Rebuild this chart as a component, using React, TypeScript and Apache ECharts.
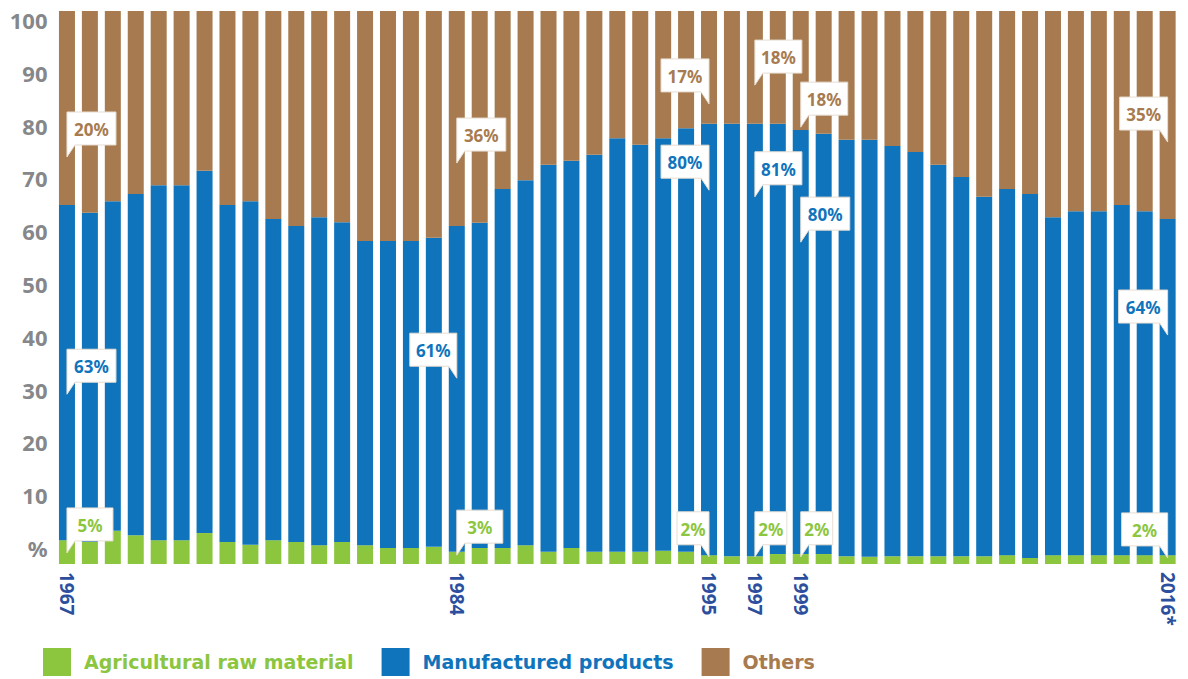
import React, { useEffect, useRef } from "react";
import * as echarts from "echarts";

const years: string[] = [
  "1967","1968","1969","1970","1971","1972","1973","1974","1975","1976",
  "1977","1978","1979","1980","1981","1982","1983","1984","1985","1986",
  "1987","1988","1989","1990","1991","1992","1993","1994","1995","1996",
  "1997","1998","1999","2000","2001","2002","2003","2004","2005","2006",
  "2007","2008","2009","2010","2011","2012","2013","2014","2016*",
];
const shownYears: string[] = ["1967", "1984", "1995", "1997", "1999", "2016*"];

const agricultural: number[] = [
  4.3,4.0,6.0,5.2,4.3,4.3,5.6,4.0,3.5,4.3,
  4.0,3.4,4.0,3.4,2.9,2.9,3.1,2.2,2.9,2.9,
  3.4,2.2,2.9,2.2,2.2,2.2,2.4,2.2,1.6,1.4,
  1.4,1.8,1.8,1.8,1.4,1.3,1.4,1.4,1.4,1.4,
  1.4,1.6,1.1,1.6,1.6,1.6,1.6,1.6,1.6,
];
const manufactured: number[] = [
  60.6,59.5,59.6,61.7,64.2,64.2,65.5,60.9,62.1,58.1,
  57.1,59.3,57.8,55.0,55.5,55.5,55.9,58.9,58.8,64.9,
  66.0,70.0,70.0,71.8,74.8,73.6,74.6,76.6,78.0,78.2,
  78.2,77.8,76.7,76.0,75.3,75.4,74.2,73.1,70.8,68.6,
  65.0,66.2,65.8,61.1,62.2,62.2,63.3,62.2,60.8,
];
const others: number[] = [
  35.1,36.5,34.4,33.1,31.5,31.5,28.9,35.1,34.4,37.6,
  38.9,37.3,38.2,41.6,41.6,41.6,41.0,38.9,38.3,32.2,
  30.6,27.8,27.1,26.0,23.0,24.2,23.0,21.2,20.4,20.4,
  20.4,20.4,21.5,22.2,23.3,23.3,24.4,25.5,27.8,30.0,
  33.6,32.2,33.1,37.3,36.2,36.2,35.1,36.2,37.6,
];

const yTickValues: number[] = [0, 10, 20, 30, 40, 50, 60, 70, 80, 90, 100];

// Callout annotations
const calloutYears: string[] = [
  "1967","1967","1967","1984","1984","1984","1995","1995","1995",
  "1997","1997","1997","1999","1999","1999","2016*","2016*","2016*",
];
const calloutAnchors: number[] = [
  73.6,30.7,2.0, 72.5,33.6,1.6, 83.2,67.6,1.3,
  86.6,66.4,1.3, 79.0,58.2,1.3, 76.3,41.4,1.1,
];
const calloutTexts: string[] = [
  "20%","63%","5%","36%","61%","3%","17%","80%","2%",
  "18%","81%","2%","18%","80%","2%","35%","64%","2%",
];
const calloutKinds: string[] = [
  "o","m","a","o","m","a","o","m","a",
  "o","m","a","o","m","a","o","m","a",
];
const calloutSides: string[] = [
  "L","L","L","L","R","L","R","R","R",
  "L","L","L","L","L","L","R","R","R",
];
const calloutWidths: number[] = [
  49,49,46,49,47,46,48,48,32,
  47,47,32,47,49,32,48,49,46,
];

const GREEN = "#8cc63f";
const BLUE = "#1074bc";
const BROWN = "#a77b4f";
const kindColor: Record<string, string> = { a: GREEN, m: BLUE, o: BROWN };
const FONT = "'Noto Sans', 'Open Sans', sans-serif";
const WIDE_FONT = "'DejaVu Sans', 'Noto Sans', sans-serif";

export default function App() {
  const ref = useRef<HTMLDivElement>(null);
  useEffect(() => {
    if (!ref.current) return;
    const chart = echarts.init(ref.current, null, { renderer: "svg" });
    const calloutData = calloutYears.map((y, i) => ({ value: [y, calloutAnchors[i]] }));
    const option: any = {
      animation: false,
      textStyle: { fontFamily: FONT },
      grid: { left: 55.5, right: 8.9, top: 11, bottom: 115 },
      legend: {
        left: 43,
        top: 648,
        padding: 0,
        icon: "rect",
        itemWidth: 28,
        itemHeight: 28,
        itemGap: 28,
        selectedMode: false,
        data: [
          { name: "Agricultural raw material", textStyle: { color: GREEN } },
          { name: "Manufactured products", textStyle: { color: BLUE } },
          { name: "Others", textStyle: { color: BROWN } },
        ],
        textStyle: { fontSize: 19, fontWeight: "bold", fontFamily: WIDE_FONT, padding: [0, 0, 0, 8] },
      },
      xAxis: {
        type: "category",
        data: years,
        axisLine: { show: false },
        axisTick: { show: false },
        axisLabel: {
          interval: (_i: number, v: string) => shownYears.includes(v),
          rotate: -90,
          margin: 8,
          color: "#2b4f9e",
          fontSize: 19,
          fontWeight: "bold",
          fontFamily: FONT,
        },
      },
      yAxis: [
        {
          type: "value",
          min: 0,
          max: 100,
          axisLabel: { show: false },
          axisLine: { show: false },
          axisTick: { show: false },
          splitLine: { show: false },
        },
        {
          type: "value",
          position: "left",
          min: -3.03,
          max: 101.7,
          axisLine: { show: false },
          axisTick: { show: false },
          splitLine: { show: false },
          axisLabel: {
            customValues: yTickValues,
            formatter: (v: number) => (v === 0 ? "%" : String(v)),
            color: "#85878a",
            fontSize: 22,
            fontWeight: "bold",
            fontFamily: FONT,
            margin: 8,
          },
        },
      ],
      series: [
        {
          name: "Agricultural raw material",
          type: "bar",
          stack: "total",
          barWidth: 16,
          itemStyle: { color: GREEN },
          data: agricultural,
        },
        {
          name: "Manufactured products",
          type: "bar",
          stack: "total",
          barWidth: 16,
          itemStyle: { color: BLUE },
          data: manufactured,
        },
        {
          name: "Others",
          type: "bar",
          stack: "total",
          barWidth: 16,
          itemStyle: { color: BROWN },
          data: others,
        },
        {
          name: "callouts",
          type: "custom",
          z: 10,
          clip: false,
          silent: true,
          data: calloutData,
          renderItem: (params: any, api: any) => {
            const i = params.dataIndex;
            const p = api.coord([api.value(0), api.value(1)]);
            const tipX = p[0];
            const tipY = p[1];
            const w = calloutWidths[i];
            const h = 33;
            const tailH = 12;
            const tailW = 8;
            const B = tipY - tailH;
            const T = B - h;
            let L: number, R: number, pts: number[][];
            if (calloutSides[i] === "L") {
              L = tipX;
              R = tipX + w;
              pts = [[L, T], [R, T], [R, B], [L + tailW, B], [L, tipY]];
            } else {
              R = tipX;
              L = tipX - w;
              pts = [[L, T], [R, T], [R, tipY], [R - tailW, B], [L, B]];
            }
            return {
              type: "group",
              children: [
                {
                  type: "polygon",
                  shape: { points: pts },
                  style: { fill: "#ffffff", stroke: "#e6ddd2", lineWidth: 1 },
                },
                {
                  type: "text",
                  style: {
                    text: calloutTexts[i],
                    x: (L + R) / 2,
                    y: (T + B) / 2 + 1,
                    align: "center",
                    verticalAlign: "middle",
                    fill: kindColor[calloutKinds[i]],
                    font: `bold 17px ${FONT}`,
                  },
                },
              ],
            };
          },
        },
      ],
    };
    chart.setOption(option);
    return () => chart.dispose();
  }, []);
  return (
    <div
      ref={ref}
      style={{ position: "absolute", left: 0, top: 0, width: 1188, height: 679, background: "#fff" }}
    />
  );
}
